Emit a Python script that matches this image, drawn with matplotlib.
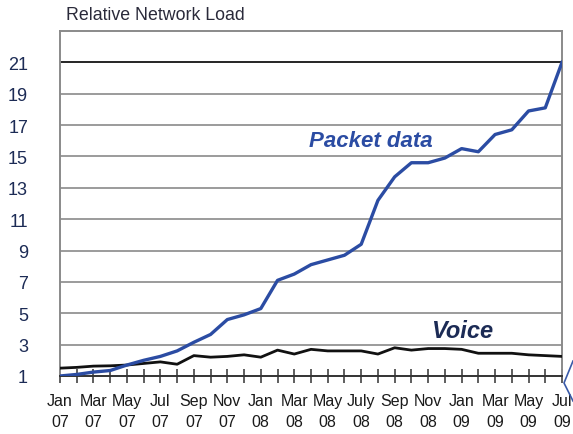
import matplotlib.pyplot as plt
import matplotlib.lines as mlines
import numpy as np

# Monthly values, Jan 07 .. Jul 09
months = np.arange(31)
packet_data = [1.0, 1.1, 1.25, 1.35, 1.7, 2.0, 2.25, 2.6, 3.15, 3.65,
               4.6, 4.9, 5.3, 7.1, 7.5, 8.1, 8.4, 8.7, 9.4, 12.2,
               13.7, 14.6, 14.6, 14.9, 15.5, 15.3, 16.4, 16.7, 17.9, 18.1, 21.0]
voice = [1.5, 1.55, 1.63, 1.65, 1.7, 1.8, 1.9, 1.75, 2.3, 2.2,
         2.25, 2.35, 2.2, 2.65, 2.4, 2.7, 2.6, 2.6, 2.6, 2.4,
         2.8, 2.65, 2.75, 2.75, 2.7, 2.45, 2.45, 2.45, 2.35, 2.3, 2.25]
tick_months = list(range(0, 31, 2))
tick_labels = ['Jan\n07', 'Mar\n07', 'May\n07', 'Jul\n07', 'Sep\n07', 'Nov\n07',
               'Jan\n08', 'Mar\n08', 'May\n08', 'July\n08', 'Sep\n08', 'Nov\n08',
               'Jan\n09', 'Mar\n09', 'May\n09', 'Jul\n09']
y_ticks = list(range(1, 22, 2))

plt.rcParams['font.family'] = ['Liberation Sans', 'DejaVu Sans']

fig = plt.figure(figsize=(5.73, 4.35), dpi=100)
ax = fig.add_axes([60 / 573, 1 - 377 / 435, 502 / 573, 345 / 435])

blue = '#2b4ca3'
navy = '#1c2b55'

# grid
for yv in y_ticks[1:]:
    ax.axhline(yv, color='black' if yv == 21 else '#8a8a8a', lw=1.2, zorder=1)

ax.plot(months, voice, color='#111111', lw=2.0, solid_joinstyle='round', zorder=3)
ax.plot(months, packet_data, color=blue, lw=2.4, solid_joinstyle='round', zorder=4)

ax.set_xlim(0, 30)
ax.set_ylim(1, 23)

for s in ['left', 'top', 'right']:
    ax.spines[s].set_color('#8a8a8a')
    ax.spines[s].set_linewidth(1.4)
ax.spines['bottom'].set_color('#333333')
ax.spines['bottom'].set_linewidth(1.4)

ax.set_xticks(months, minor=True)
ax.set_xticks(tick_months)
ax.set_xticklabels(tick_labels, fontsize=11.5, color='#1a1a1a', linespacing=1.55)
ax.tick_params(axis='x', which='both', direction='inout', length=10, width=1.1,
               color='#333333', pad=7)
ax.set_yticks(y_ticks)
ax.set_yticklabels([str(v) for v in y_ticks], fontsize=13, color=navy)
ax.tick_params(axis='y', length=0, pad=23)

ax.text(18.6, 16.0, 'Packet data', color=blue, fontsize=16, fontweight='bold',
        fontstyle='italic', ha='center', va='center', zorder=5)
ax.text(24.0, 3.9, 'Voice', color=navy, fontsize=17, fontweight='bold',
        fontstyle='italic', ha='center', va='center', zorder=5)

fig.text(66 / 573, 1 - 15 / 435, 'Relative Network Load', fontsize=12.8,
         color='#2a2a3a', ha='left', va='center')

# edge fragment of neighbouring chart at bottom right
fig.add_artist(mlines.Line2D([573 / 573, 564 / 573, 573 / 573],
                             [1 - 362 / 435, 1 - 384 / 435, 1 - 402 / 435],
                             color='#3a5aa8', lw=1.2))

fig.savefig('out.png', dpi=100)
